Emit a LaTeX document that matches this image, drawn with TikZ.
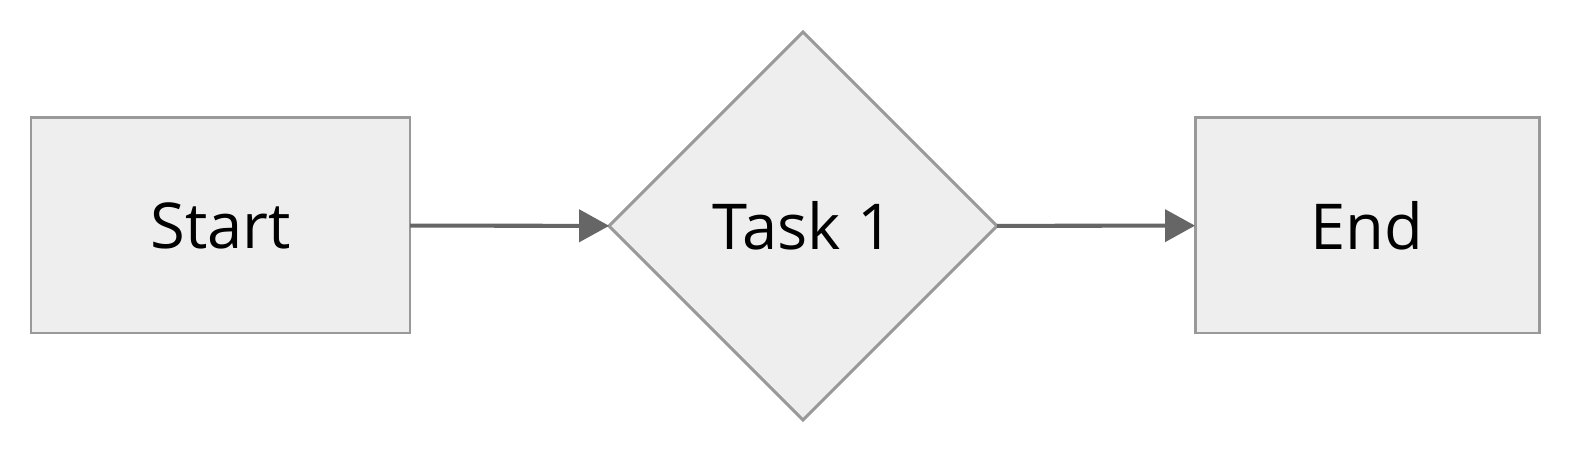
\documentclass[tikz,border=0pt]{standalone}
\usepackage{fontspec}
\setmainfont{Open Sans}
\definecolor{nodefill}{HTML}{EEEEEE}
\definecolor{nodeline}{HTML}{999999}
\definecolor{edgeline}{HTML}{666666}
\usetikzlibrary{shapes.geometric, arrows.meta, positioning}
\begin{document}
\begin{tikzpicture}[
  flowbox/.style={draw=nodeline, fill=nodefill, line width=1.7pt, minimum height=4.3cm, align=center, font=\fontsize{36}{40}\selectfont, inner sep=0pt, outer sep=0pt},
  flowdec/.style={diamond, aspect=1, draw=nodeline, fill=nodefill, line width=1.7pt, minimum width=7.76cm, minimum height=7.76cm, font=\fontsize{36}{40}\selectfont, inner sep=0pt, outer sep=0pt},
  flowedge/.style={draw=edgeline, line width=2.3pt, -{Triangle[length=0.6cm, width=0.64cm]}}
]
  \useasboundingbox (0, 0) rectangle (31.52, 9.04);

  % Nodes
  \node[flowbox, minimum width=7.58cm] (start) at (4.41, 4.53) {Start};
  \node[flowdec] (task) at (16.06, 4.52) {Task 1};
  \node[flowbox, minimum width=6.88cm] (end) at (27.34, 4.53) {End};

  % Edges
  \draw[flowedge] (start) -- (task);
  \draw[flowedge] (task) -- (end);
\end{tikzpicture}
\end{document}
